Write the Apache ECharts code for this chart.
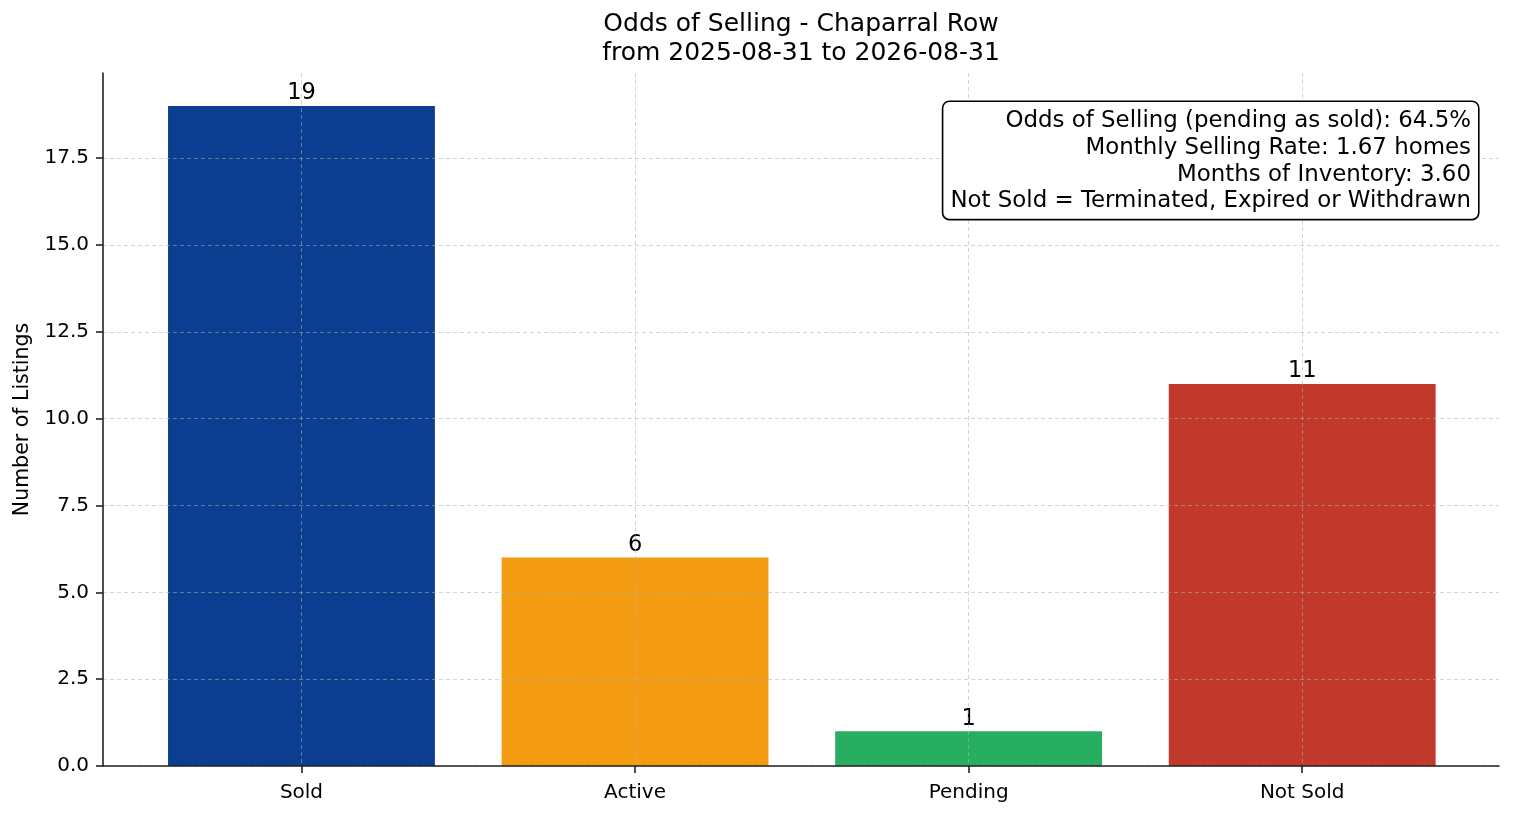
<!DOCTYPE html>
<html lang="en">
<head>
    <meta charset="UTF-8">
    <title>Odds of Selling - Chaparral Row</title>
    <script src="https://cdn.jsdelivr.net/npm/echarts@6/dist/echarts.min.js"></script>
    <style>
        html, body { margin: 0; padding: 0; background: #fff; }
    </style>
</head>
<body>
    <div id="main" style="width:1514px;height:816px;"></div>
    <script type="text/javascript">
        // data
        var categories = ['Sold', 'Active', 'Pending', 'Not Sold'];
        var counts = [19, 6, 1, 11];
        var yTicks = [0, 2.5, 5, 7.5, 10, 12.5, 15, 17.5];
        var titleLines = ['Odds of Selling - Chaparral Row', 'from 2025-08-31 to 2026-08-31'];
        var infoLines = [
            'Odds of Selling (pending as sold): 64.5%',
            'Monthly Selling Rate: 1.67 homes',
            'Months of Inventory: 3.60',
            'Not Sold = Terminated, Expired or Withdrawn'
        ];

        var barColors = ['#0b3d91', '#f39c12', '#27ae60', '#c0392b'];
        var font = 'DejaVu Sans';

        // plot box (matplotlib-like axes)
        var gridLeft = 103, gridRight = 15, gridTop = 73, gridBottom = 50;
        var plotWidth = 1514 - gridLeft - gridRight;
        var xMin = -0.595, xMax = 3.59;
        var yMax = 19.95;
        var barWidth = 0.8 * plotWidth / (xMax - xMin);

        var chartDom = document.getElementById('main');
        var myChart = echarts.init(chartDom, null, { renderer: 'canvas' });

        var gridLine = { show: true, lineStyle: { color: 'rgba(176,176,176,0.55)', type: [4, 3], width: 1 } };

        var option = {
            backgroundColor: '#fff',
            animation: false,
            textStyle: { fontFamily: font },
            grid: { left: gridLeft, right: gridRight, top: gridTop, bottom: gridBottom, containLabel: false },
            xAxis: {
                type: 'value',
                min: xMin,
                max: xMax,
                z: 5,
                axisLine: { show: true, onZero: false, lineStyle: { color: '#222', width: 1.6 } },
                axisTick: { show: true, length: 7, lineStyle: { color: '#222', width: 1.6 }, customValues: [0, 1, 2, 3] },
                axisLabel: {
                    customValues: [0, 1, 2, 3],
                    color: '#000',
                    fontSize: 20,
                    fontFamily: font,
                    margin: 17,
                    formatter: function (v) { return categories[Math.round(v)]; }
                },
                splitLine: gridLine
            },
            yAxis: {
                type: 'value',
                min: 0,
                max: yMax,
                z: 5,
                name: 'Number of Listings',
                nameLocation: 'middle',
                nameGap: 64,
                nameRotate: 90,
                nameTextStyle: { color: '#000', fontSize: 20.5, fontFamily: font },
                axisLine: { show: true, onZero: false, lineStyle: { color: '#222', width: 1.6 } },
                axisTick: { show: true, length: 7, lineStyle: { color: '#222', width: 1.6 }, customValues: yTicks },
                axisLabel: {
                    customValues: yTicks,
                    color: '#000',
                    fontSize: 20,
                    fontFamily: font,
                    margin: 14,
                    formatter: function (v) { return v.toFixed(1); }
                },
                splitLine: gridLine
            },
            graphic: [
                {
                    type: 'text',
                    left: 801 - 400,
                    top: 10,
                    style: {
                        text: titleLines.join('\n'),
                        x: 400,
                        width: 800,
                        textAlign: 'center',
                        font: '25px "DejaVu Sans"',
                        lineHeight: 29,
                        fill: '#000'
                    }
                },
                {
                    type: 'text',
                    z: 10,
                    style: {
                        text: infoLines.join('\n'),
                        x: 1478,
                        y: 102,
                        align: 'right',
                        verticalAlign: 'top',
                        font: '22.9px "DejaVu Sans"',
                        lineHeight: 26.7,
                        fill: '#000',
                        backgroundColor: '#fff',
                        borderColor: '#000',
                        borderWidth: 1.6,
                        borderRadius: 6,
                        padding: [6, 7, 4, 7]
                    }
                }
            ],
            series: [
                {
                    type: 'bar',
                    barWidth: barWidth,
                    z: 2,
                    data: counts.map(function (c, i) {
                        return { value: [i, c], itemStyle: { color: barColors[i] } };
                    }),
                    label: {
                        show: true,
                        position: 'top',
                        distance: 1,
                        color: '#000',
                        fontSize: 22.5,
                        fontFamily: font,
                        formatter: function (p) { return String(p.value[1]); }
                    }
                }
            ]
        };

        myChart.setOption(option);
    </script>
</body>
</html>
